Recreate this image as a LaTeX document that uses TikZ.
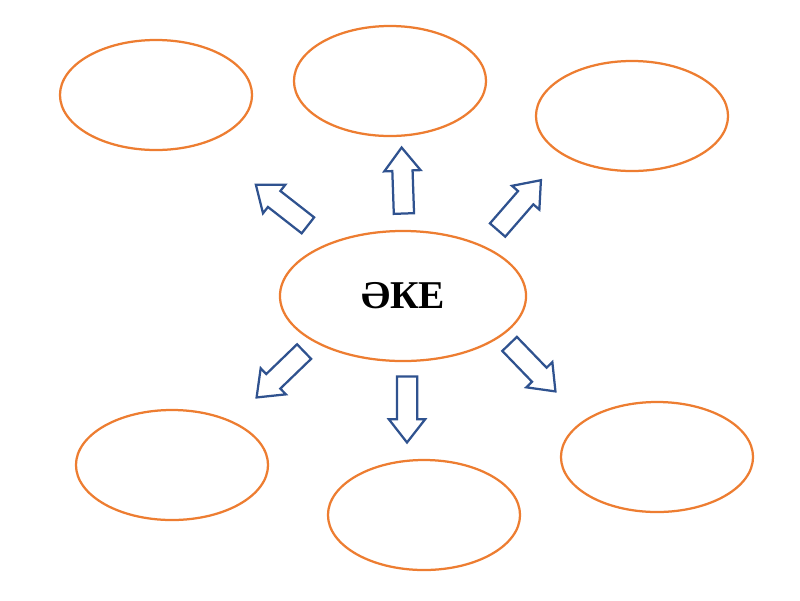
\documentclass[tikz,border=0pt]{standalone}
\usepackage{fontspec}
\setmainfont{Liberation Serif}
\usepackage{tikz}
\usetikzlibrary{shapes.geometric,shapes.arrows}
\definecolor{ovalorange}{RGB}{237,125,49}
\definecolor{arrowblue} {RGB}{47,82,143}

\begin{document}
\begin{tikzpicture}[
    x=0.025cm,y=-0.025cm,
    oval/.style   ={draw=ovalorange,ellipse,line width=1.6pt,fill=white,
                    minimum width=4.8cm,minimum height=2.75cm},
    bigoval/.style={oval,minimum width=6.15cm,minimum height=3.25cm,
                    font=\fontsize{28}{32}\selectfont\bfseries},
    blockarr/.style={draw=arrowblue,single arrow,line width=1.6pt,fill=white,
                    inner xsep=0pt,inner ysep=0.225cm,
                    single arrow head extend=0.2cm,
                    single arrow tip angle=76,
                    minimum height=1.65cm},
  ]
  \useasboundingbox (0,0) rectangle (800,600);

  %% Centre
  \node[bigoval] (father) at (403,296) {ӘКЕ};

  %% Outer ovals
  \node[oval] (topleft)  at (156,95)  {};
  \node[oval] (topmid)   at (390,81)  {};
  \node[oval] (topright) at (632,116) {};
  \node[oval] (botleft)  at (172,465) {};
  \node[oval] (botmid)   at (424,515) {};
  \node[oval] (botright) at (657,457) {};

  %% Block arrows
  \node[blockarr,rotate=142] (arrtl) at (287,209) {};
  \node[blockarr,rotate=92]  (arrtm) at (403,187) {};
  \node[blockarr,rotate=49]  (arrtr) at (515,210) {};
  \node[blockarr,rotate=224] (arrbl) at (285,370) {};
  \node[blockarr,rotate=270] (arrbm) at (407,403) {};
  \node[blockarr,rotate=314] (arrbr) at (528,363) {};
\end{tikzpicture}
\end{document}
